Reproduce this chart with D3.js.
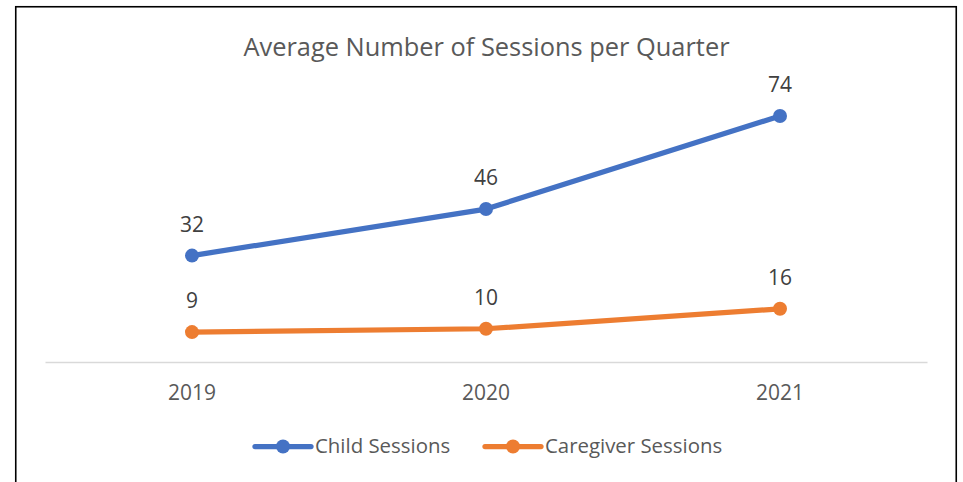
<!DOCTYPE html>
<html>
<head>
<meta charset="utf-8">
<script src="https://cdn.jsdelivr.net/npm/d3@7"></script>
<style>
  html, body { margin: 0; padding: 0; background: #fff; }
  svg { display: block; font-family: "Open Sans", "Noto Sans", sans-serif; }
</style>
</head>
<body>
<div id="chart"></div>
<script>
const years = ['2019', '2020', '2021'];
const childSessions = [32, 46, 74];
const caregiverSessions = [9, 10, 16];
const seriesNames = ['Child Sessions', 'Caregiver Sessions'];
const seriesColors = ['#4472C4', '#ED7D31'];
const chartTitle = 'Average Number of Sessions per Quarter';

const width = 963;
const height = 482;

const svg = d3.select('#chart')
  .append('svg')
  .attr('width', width)
  .attr('height', height);

// outer frame (bottom edge falls outside the picture)
svg.append('rect')
  .attr('x', 15.75)
  .attr('y', 6.75)
  .attr('width', 940.5)
  .attr('height', 500)
  .attr('fill', 'none')
  .attr('stroke', '#000')
  .attr('stroke-width', 1.6);

svg.append('text')
  .attr('x', 486.5)
  .attr('y', 56)
  .attr('text-anchor', 'middle')
  .attr('fill', '#595959')
  .style('font-size', '25.4px')
  .text(chartTitle);

const x = d3.scaleBand()
  .domain(years)
  .range([45, 927]);

const y = d3.scaleLinear()
  .domain([0, 80])
  .range([362, 96]);

const xAxis = svg.append('g')
  .attr('transform', 'translate(0,' + y(0) + ')')
  .call(d3.axisBottom(x).tickSize(0).tickPadding(23));
xAxis.select('.domain')
  .attr('stroke', '#D9D9D9')
  .attr('stroke-width', 1.6);
xAxis.selectAll('text')
  .attr('fill', '#595959')
  .style('font-size', '21px')
  .style('font-family', '"Open Sans", "Noto Sans", sans-serif');

const series = [childSessions, caregiverSessions].map((vals, i) => ({
  name: seriesNames[i],
  color: seriesColors[i],
  values: years.map((yr, j) => ({ year: yr, value: vals[j] }))
}));

const line = d3.line()
  .x(d => x(d.year) + x.bandwidth() / 2)
  .y(d => y(d.value));

const groups = svg.selectAll('.series')
  .data(series)
  .enter()
  .append('g')
  .attr('class', 'series');

groups.append('path')
  .attr('d', d => line(d.values))
  .attr('fill', 'none')
  .attr('stroke', d => d.color)
  .attr('stroke-width', 5.25)
  .attr('stroke-linejoin', 'round')
  .attr('stroke-linecap', 'round');

groups.selectAll('circle')
  .data(d => d.values.map(v => Object.assign({ color: d.color }, v)))
  .enter()
  .append('circle')
  .attr('cx', d => x(d.year) + x.bandwidth() / 2)
  .attr('cy', d => y(d.value))
  .attr('r', 7)
  .attr('fill', d => d.color);

groups.selectAll('.label')
  .data(d => d.values)
  .enter()
  .append('text')
  .attr('class', 'label')
  .attr('x', d => x(d.year) + x.bandwidth() / 2)
  .attr('y', d => y(d.value) - 24)
  .attr('text-anchor', 'middle')
  .attr('fill', '#404040')
  .style('font-size', '21px')
  .text(d => d.value);

// legend
const legendX = [255, 485];
const legend = svg.selectAll('.legend')
  .data(series)
  .enter()
  .append('g')
  .attr('class', 'legend')
  .attr('transform', (d, i) => 'translate(' + legendX[i] + ',446.5)');

legend.append('line')
  .attr('x1', 0)
  .attr('x2', 56)
  .attr('stroke', d => d.color)
  .attr('stroke-width', 5.25)
  .attr('stroke-linecap', 'round');

legend.append('circle')
  .attr('cx', 28)
  .attr('r', 7)
  .attr('fill', d => d.color);

legend.append('text')
  .attr('x', 60)
  .attr('y', 6.5)
  .attr('fill', '#595959')
  .style('font-size', '20.4px')
  .text(d => d.name);
</script>
</body>
</html>
